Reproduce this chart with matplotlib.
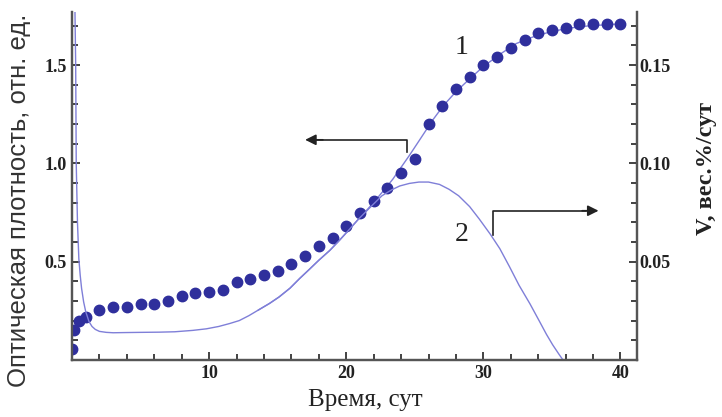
import numpy as np
import matplotlib
matplotlib.use("Agg")
import matplotlib.pyplot as plt
from matplotlib.ticker import MultipleLocator, FixedLocator

# experimental points (optical density)
days = [0, 0.15, 0.5, 1, 2, 3, 4, 5, 6, 7, 8, 9, 10, 11, 12, 13, 14, 15, 16, 17,
        18, 19, 20, 21, 22, 23, 24, 25, 26, 27, 28, 29, 30, 31, 32, 33, 34, 35,
        36, 37, 38, 39, 40]
density = [0.057, 0.15, 0.20, 0.22, 0.254, 0.27, 0.27, 0.284, 0.284, 0.30, 0.325,
           0.342, 0.347, 0.358, 0.394, 0.41, 0.434, 0.45, 0.49, 0.53, 0.58, 0.62,
           0.68, 0.75, 0.81, 0.877, 0.95, 1.02, 1.20, 1.29, 1.377, 1.44, 1.50,
           1.54, 1.585, 1.626, 1.663, 1.68, 1.69, 1.707, 1.707, 1.71, 1.71]

# curve 1 - fit of optical density
fit_t = [13.6, 14.4, 15.1, 15.9, 16.6, 17.3, 18.0, 18.8, 19.5, 20.2, 20.9, 21.6,
         22.2, 22.8, 23.4, 24.0, 24.6, 25.5, 26.3, 27.1, 28.0, 29.0, 29.95, 31.2,
         32.4, 33.6, 34.8, 36.2, 37.7, 40]
fit_d = [0.254, 0.287, 0.32, 0.365, 0.414, 0.46, 0.507, 0.557, 0.608, 0.662, 0.717,
         0.77, 0.818, 0.868, 0.92, 0.98, 1.04, 1.135, 1.22, 1.295, 1.365, 1.43, 1.49,
         1.555, 1.61, 1.643, 1.668, 1.688, 1.70, 1.71]

# curve 2 - rate V, вес.%/сут
rate_t = [0.12, 0.2, 0.22, 0.27, 0.31, 0.4, 0.5, 0.6, 0.7, 0.85, 1.0, 1.24, 1.46,
          1.7, 2.0, 2.5, 3.0, 3.9, 5.0, 6.35, 7.5, 8.8, 9.8, 10.7, 11.5, 12.2, 12.9,
          13.6, 14.4, 15.1, 15.9, 16.6, 17.3, 18.0, 18.8, 19.5, 20.2, 20.9, 21.8,
          22.6, 23.3, 23.9, 24.6, 25.3, 26.0, 26.8, 27.5, 28.2, 29.0, 29.7, 30.5,
          31.2, 31.9, 32.6, 33.4, 34.1, 34.6, 35.05, 35.5, 35.8]
rate_v = [0.30, 0.2, 0.176, 0.15, 0.10, 0.07, 0.0515, 0.043, 0.0364, 0.0295,
          0.0246, 0.0195, 0.017, 0.0155, 0.0145, 0.014, 0.0138, 0.0139, 0.014,
          0.0141, 0.0143, 0.015, 0.0158, 0.017, 0.0185, 0.020, 0.0225, 0.0254,
          0.0287, 0.032, 0.0365, 0.0414, 0.046, 0.0507, 0.0557, 0.0608, 0.0662,
          0.0717, 0.078, 0.0835, 0.0865, 0.0885, 0.0898, 0.0905, 0.0905, 0.0893,
          0.0868, 0.0835, 0.078, 0.0717, 0.064, 0.0566, 0.0475, 0.038, 0.0285,
          0.0195, 0.013, 0.0077, 0.003, 0.0]

dot_color = "#2f2f9c"
line_color = "#7f7fd8"
ink = "#222222"
serif = "Liberation Serif"

fig = plt.figure(figsize=(7.22, 4.17), dpi=100)
ax = fig.add_axes([0.0997, 0.137, 0.7825, 0.834])
ax2 = ax.twinx()

ax.plot(days, density, "o", color=dot_color, markersize=7.5, zorder=3)
ax.plot(fit_t, fit_d, color=line_color, lw=1.0, zorder=2)
ax2.plot(rate_t, rate_v, color=line_color, lw=1.0)

ax.set_xlim(0, 41.2)
ax.set_ylim(0, 1.77)
ax2.set_ylim(0, 0.177)

ax.xaxis.set_major_locator(FixedLocator([10, 20, 30, 40]))
ax.xaxis.set_minor_locator(MultipleLocator(2))
ax.yaxis.set_major_locator(FixedLocator([0.5, 1.0, 1.5]))
ax.yaxis.set_minor_locator(MultipleLocator(0.1))
ax2.yaxis.set_major_locator(FixedLocator([0.05, 0.10, 0.15]))
ax2.yaxis.set_minor_locator(MultipleLocator(0.01))
ax.yaxis.set_major_formatter(plt.FuncFormatter(lambda v, p: "%.1f" % v))
ax2.yaxis.set_major_formatter(plt.FuncFormatter(lambda v, p: "%.2f" % v))

for a in (ax, ax2):
    a.spines["top"].set_visible(False)
    for s in a.spines.values():
        s.set_linewidth(1.6)
        s.set_color("#555555")
    a.tick_params(which="both", direction="in", color=ink, width=1.2, labelsize=13,
                  labelcolor=ink)
    a.tick_params(which="major", length=6)
    a.tick_params(which="minor", length=4)
    for lab in a.get_xticklabels() + a.get_yticklabels():
        lab.set_fontfamily(serif)
        lab.set_fontweight("bold")
ax.tick_params(axis="y", which="both", right=False)
ax2.tick_params(axis="y", which="both", left=False, pad=2)
ax2.tick_params(axis="x", which="both", top=False)

ax.set_xlabel("Время, сут", family=serif, fontsize=18, color=ink, labelpad=2)
ax.xaxis.set_label_coords(0.52, -0.085)
ax.set_ylabel("Оптическая плотность, отн. ед.", family="Liberation Sans",
              fontsize=18.5, color="#333333", labelpad=8)
ax.yaxis.set_label_coords(-0.072, 0.46)
ax2.set_ylabel("V, вес.%/сут", family=serif, fontweight="bold", fontsize=17.5,
               color=ink, labelpad=12)
ax2.yaxis.set_label_coords(1.105, 0.55)

# arrows pointing to the axes
ax.plot([24.45, 24.45, 17.5], [1.06, 1.12, 1.12], color=ink, lw=1.2)
ax.annotate("", xy=(16.8, 1.12), xytext=(18.5, 1.12),
            arrowprops=dict(arrowstyle="-|>", color=ink, lw=1.2, mutation_scale=16))
ax.plot([30.7, 30.7, 37.5], [0.633, 0.759, 0.759], color=ink, lw=1.2)
ax.annotate("", xy=(38.6, 0.759), xytext=(37.0, 0.759),
            arrowprops=dict(arrowstyle="-|>", color=ink, lw=1.2, mutation_scale=16))

ax.text(28.4, 1.59, "1", family=serif, fontsize=20, color=ink, ha="center", va="center")
ax.text(28.4, 0.64, "2", family=serif, fontsize=20, color=ink, ha="center", va="center")

fig.savefig("out.png", dpi=100)
